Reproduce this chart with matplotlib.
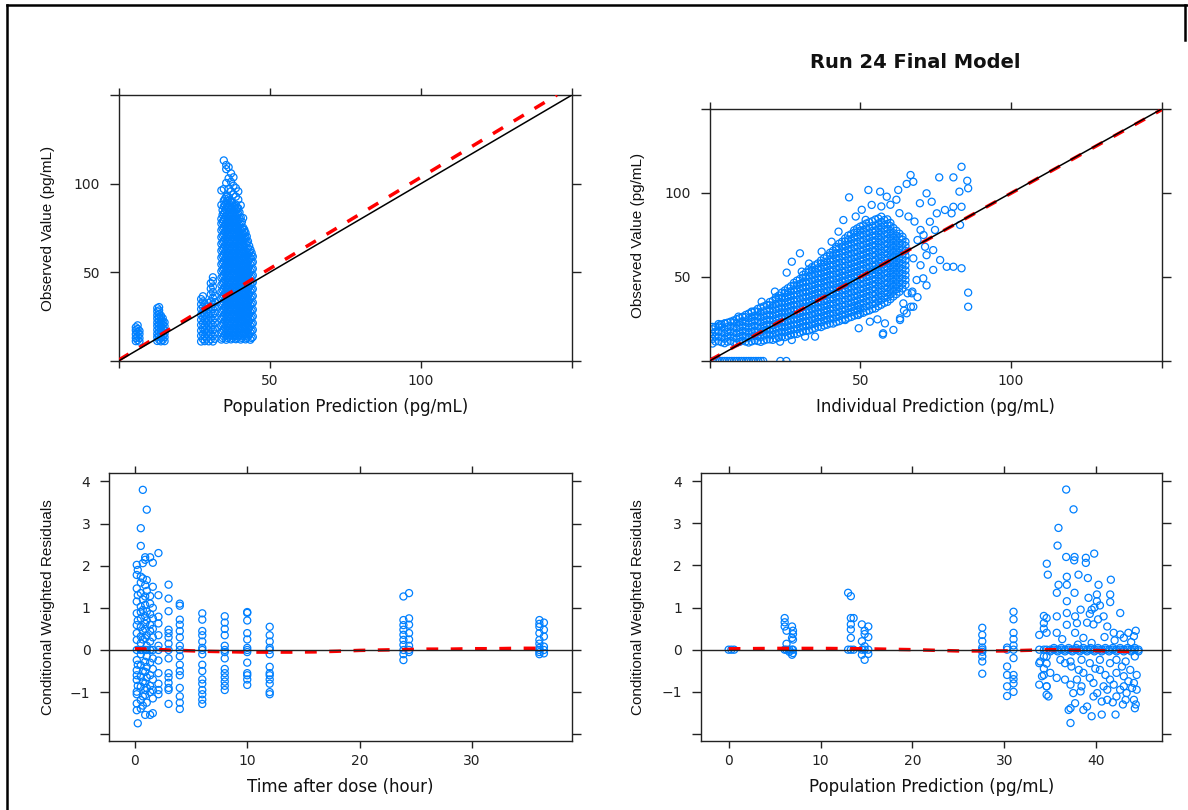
import matplotlib
matplotlib.use("Agg")
import matplotlib.pyplot as plt
from matplotlib.lines import Line2D

plt.rcParams['font.family'] = ['DejaVu Sans']

POINT = '#0080ff'
SMOOTH = '#ff0000'
INK = '#222222'

# ---------------- top-left: observed vs population prediction ----------------
pop_pred_cols = [5.7, 6.3, 6.9,
                 12.8, 13.4, 14.0, 14.6, 15.2,
                 27.3, 27.9, 28.5, 29.1, 29.8, 30.5, 31.2, 31.8,
                 34.0, 34.8, 35.6, 36.4, 37.2, 38.0, 38.8, 39.6, 40.4, 41.2,
                 42.0, 42.8, 43.6, 44.4]
obs_by_pop_pred = [
    [11.2, 13.0, 15.1, 17.3, 19.0],
    [11.8, 13.9, 16.2, 18.1, 20.1],
    [11.0, 12.9, 15.2, 17.0],
    [11.3, 13.5, 15.4, 17.6, 19.8, 21.7, 23.9, 25.8, 27.9, 29.8],
    [12.0, 14.1, 16.3, 18.4, 20.6, 22.5, 24.7, 26.6, 28.5, 30.4],
    [11.1, 13.2, 15.6, 17.7, 19.9, 22.1, 24.0, 25.6],
    [11.9, 14.0, 16.2, 18.5, 20.5, 22.3, 24.1],
    [11.2, 13.4, 15.5, 17.4, 19.6, 21.8],
    [11.0, 14.2, 17.1, 20.3, 23.2, 26.1, 29.3, 32.0, 34.9],
    [12.4, 15.3, 18.5, 21.4, 24.6, 27.5, 30.4, 33.6, 36.5],
    [11.2, 14.0, 17.3, 20.1, 23.4, 26.2, 29.0, 32.3],
    [12.6, 15.5, 18.4, 21.7, 24.5, 27.4, 30.6],
    [11.1, 14.3, 17.2, 20.0, 23.3, 26.5, 29.4, 32.8],
    [12.3, 15.1, 18.3, 21.2, 24.4, 27.3, 30.2, 33.5, 37.6, 40.8, 43.9],
    [11.0, 14.1, 17.4, 20.2, 23.1, 26.4, 29.3, 32.1, 35.6, 38.9, 42.0, 45.1, 47.2],
    [12.5, 15.4, 18.2, 21.5, 24.3, 27.1, 30.5, 33.2, 36.8],
    [12.1, 15.8, 19.9, 23.6, 27.4, 31.5, 35.2, 39.1, 42.8, 46.9, 50.6, 54.5, 58.3,
     62.2, 66.0, 69.8, 73.7, 77.5, 80.1, 88.0, 96.2],
    [13.9, 17.8, 21.6, 25.5, 29.3, 33.2, 37.0, 40.9, 44.7, 48.6, 52.4, 56.3, 60.1,
     64.0, 67.8, 71.7, 75.5, 79.4, 83.2, 87.1, 90.4, 97.0, 113.1],
    [12.0, 15.9, 19.7, 23.6, 27.4, 31.3, 35.1, 39.0, 42.8, 46.7, 50.5, 54.4, 58.2,
     62.1, 65.9, 69.8, 73.6, 77.5, 81.3, 85.2, 89.0, 92.6, 100.4, 108.2, 110.5],
    [13.8, 17.7, 21.5, 25.4, 29.2, 33.1, 36.9, 40.8, 44.6, 48.5, 52.3, 56.2, 60.0,
     63.9, 67.7, 71.6, 75.4, 79.3, 83.1, 87.0, 91.8, 97.1, 103.0, 109.3],
    [12.2, 16.0, 19.9, 23.7, 27.6, 31.4, 35.3, 39.1, 43.0, 46.8, 50.7, 54.5, 58.4,
     62.2, 66.1, 69.9, 73.8, 77.6, 81.5, 85.3, 89.6, 95.7, 101.0, 105.8],
    [14.0, 17.9, 21.7, 25.6, 29.4, 33.3, 37.1, 41.0, 44.8, 48.7, 52.5, 56.4, 60.2,
     64.1, 67.9, 71.8, 75.6, 79.5, 83.3, 86.9, 93.9, 98.8, 103.6],
    [12.3, 16.1, 20.0, 23.8, 27.7, 31.5, 35.4, 39.2, 43.1, 46.9, 50.8, 54.6, 58.5,
     62.3, 66.2, 70.0, 73.9, 77.7, 81.6, 85.4, 88.2, 92.7, 97.5],
    [13.9, 17.8, 21.6, 25.5, 29.3, 33.2, 37.0, 40.9, 44.7, 48.6, 52.4, 56.3, 60.1,
     64.0, 67.8, 71.7, 75.5, 79.4, 83.0, 86.1, 91.0, 95.6],
    [12.1, 15.9, 19.8, 23.6, 27.5, 31.3, 35.2, 39.0, 42.9, 46.7, 50.6, 54.4, 58.3,
     62.1, 66.0, 69.8, 73.7, 77.4, 80.9, 87.8],
    [14.1, 17.9, 21.8, 25.6, 29.5, 33.3, 37.2, 41.0, 44.9, 48.7, 52.6, 56.4, 60.3,
     64.1, 68.0, 71.5, 75.2, 80.6],
    [12.2, 16.0, 19.9, 23.7, 27.6, 31.4, 35.3, 39.1, 43.0, 46.8, 50.7, 54.5, 58.4,
     62.2, 66.1, 69.4, 72.3],
    [13.8, 17.7, 21.5, 25.4, 29.2, 33.1, 36.9, 40.8, 44.6, 48.5, 52.3, 56.2, 60.0,
     63.6, 67.5],
    [12.0, 15.9, 19.7, 23.6, 27.4, 31.3, 35.1, 39.0, 42.8, 46.7, 50.5, 54.4, 58.1, 62.8],
    [13.6, 17.5, 21.3, 25.2, 29.0, 32.9, 36.7, 40.6, 44.4, 48.3, 52.0, 55.8, 58.9],
]
# observations sitting between the columns above (main dose group)
pop_pred_cols_mid = [34.4, 35.2, 36.0, 36.8, 37.6, 38.4, 39.2, 40.0, 40.8, 41.6,
                     42.4, 43.2, 44.0]
obs_by_pop_pred_mid = [
    [13.0, 16.9, 20.8, 24.6, 28.5, 32.3, 36.2, 40.0, 43.9, 47.7, 51.6, 55.4, 59.3,
     63.1, 67.0, 70.8, 74.7, 78.5, 82.4, 85.1],
    [14.8, 18.7, 22.5, 26.4, 30.2, 34.1, 37.9, 41.8, 45.6, 49.5, 53.3, 57.2, 61.0,
     64.9, 68.7, 72.6, 76.4, 80.3, 84.1, 88.0, 91.5],
    [13.0, 16.9, 20.8, 24.6, 28.5, 32.3, 36.2, 40.0, 43.9, 47.7, 51.6, 55.4, 59.3,
     63.1, 67.0, 70.8, 74.7, 78.5, 82.4, 86.2, 90.1, 93.0],
    [14.8, 18.7, 22.5, 26.4, 30.2, 34.1, 37.9, 41.8, 45.6, 49.5, 53.3, 57.2, 61.0,
     64.9, 68.7, 72.6, 76.4, 80.3, 84.1, 88.0, 90.8],
    [13.0, 16.9, 20.8, 24.6, 28.5, 32.3, 36.2, 40.0, 43.9, 47.7, 51.6, 55.4, 59.3,
     63.1, 67.0, 70.8, 74.7, 78.5, 82.4, 86.2, 89.4],
    [14.8, 18.7, 22.5, 26.4, 30.2, 34.1, 37.9, 41.8, 45.6, 49.5, 53.3, 57.2, 61.0,
     64.9, 68.7, 72.6, 76.4, 80.3, 84.1, 87.5],
    [13.0, 16.9, 20.8, 24.6, 28.5, 32.3, 36.2, 40.0, 43.9, 47.7, 51.6, 55.4, 59.3,
     63.1, 67.0, 70.8, 74.7, 78.5, 82.4, 86.2],
    [14.8, 18.7, 22.5, 26.4, 30.2, 34.1, 37.9, 41.8, 45.6, 49.5, 53.3, 57.2, 61.0,
     64.9, 68.7, 72.6, 76.4, 80.3, 83.8],
    [13.0, 16.9, 20.8, 24.6, 28.5, 32.3, 36.2, 40.0, 43.9, 47.7, 51.6, 55.4, 59.3,
     63.1, 67.0, 70.8, 74.7, 78.5],
    [14.8, 18.7, 22.5, 26.4, 30.2, 34.1, 37.9, 41.8, 45.6, 49.5, 53.3, 57.2, 61.0,
     64.9, 68.7, 72.6, 74.0],
    [13.0, 16.9, 20.8, 24.6, 28.5, 32.3, 36.2, 40.0, 43.9, 47.7, 51.6, 55.4, 59.3,
     63.1, 67.0, 70.2],
    [14.8, 18.7, 22.5, 26.4, 30.2, 34.1, 37.9, 41.8, 45.6, 49.5, 53.3, 57.2, 61.0, 64.9],
    [13.0, 16.9, 20.8, 24.6, 28.5, 32.3, 36.2, 40.0, 43.9, 47.7, 51.6, 55.4, 59.3, 61.0],
]
# linear trend of observed on population prediction
pop_trend_x = [0.0, 145.0]
pop_trend_y = [0.5, 150.0]

# ---------------- top-right: observed vs individual prediction ----------------
ind_pred_cols = [1, 3, 5, 7, 9, 11, 13, 15, 17, 19, 21, 23, 25, 27, 29, 31, 33,
                 35, 37, 39, 41, 43, 45, 47, 49, 51, 53, 55, 57, 59, 61, 63, 65]
obs_by_ind_pred = [
    [10.4, 13.2, 16.1, 18.9, 20.3],
    [11.8, 14.6, 17.5, 20.6, 22.0],
    [10.6, 13.3, 16.4, 19.2, 22.3],
    [12.0, 14.9, 17.7, 20.8, 23.4],
    [10.7, 13.6, 16.5, 19.4, 22.2, 24.9],
    [12.1, 15.0, 17.9, 20.8, 23.7, 26.3],
    [11.0, 13.9, 16.8, 19.7, 22.6, 25.5, 28.2],
    [12.3, 15.2, 18.1, 21.0, 23.9, 26.8, 29.6],
    [11.4, 14.3, 17.2, 20.1, 23.0, 25.9, 28.8, 31.8],
    [12.8, 15.7, 18.6, 21.5, 24.4, 27.3, 30.2, 33.4],
    [12.6, 15.5, 18.4, 21.3, 24.2, 27.1, 30.0, 32.9, 35.8],
    [14.0, 16.9, 19.8, 22.7, 25.6, 28.5, 31.4, 34.3, 37.2, 39.0],
    [14.2, 17.1, 20.0, 22.9, 25.8, 28.7, 31.6, 34.5, 37.4, 40.3, 42.0],
    [15.5, 18.4, 21.3, 24.2, 27.1, 30.0, 32.9, 35.8, 38.7, 41.6, 44.5],
    [16.1, 19.0, 21.9, 24.8, 27.7, 30.6, 33.5, 36.4, 39.3, 42.2, 45.1, 47.8],
    [17.6, 20.5, 23.4, 26.3, 29.2, 32.1, 35.0, 37.9, 40.8, 43.7, 46.6, 49.5, 51.2],
    [18.2, 21.1, 24.0, 26.9, 29.8, 32.7, 35.6, 38.5, 41.4, 44.3, 47.2, 50.1, 53.0, 54.6],
    [19.6, 22.5, 25.4, 28.3, 31.2, 34.1, 37.0, 39.9, 42.8, 45.7, 48.6, 51.5, 54.4, 57.0],
    [20.2, 23.1, 26.0, 28.9, 31.8, 34.7, 37.6, 40.5, 43.4, 46.3, 49.2, 52.1, 55.0, 57.9, 59.8],
    [21.6, 24.5, 27.4, 30.3, 33.2, 36.1, 39.0, 41.9, 44.8, 47.7, 50.6, 53.5, 56.4, 59.3, 62.2],
    [22.3, 25.2, 28.1, 31.0, 33.9, 36.8, 39.7, 42.6, 45.5, 48.4, 51.3, 54.2, 57.1, 60.0,
     62.9, 65.6],
    [23.7, 26.6, 29.5, 32.4, 35.3, 38.2, 41.1, 44.0, 46.9, 49.8, 52.7, 55.6, 58.5, 61.4,
     64.3, 67.2, 69.8],
    [24.8, 27.7, 30.6, 33.5, 36.4, 39.3, 42.2, 45.1, 48.0, 50.9, 53.8, 56.7, 59.6, 62.5,
     65.4, 68.3, 71.2, 73.0],
    [26.2, 29.1, 32.0, 34.9, 37.8, 40.7, 43.6, 46.5, 49.4, 52.3, 55.2, 58.1, 61.0, 63.9,
     66.8, 69.7, 72.6, 75.5],
    [27.4, 30.3, 33.2, 36.1, 39.0, 41.9, 44.8, 47.7, 50.6, 53.5, 56.4, 59.3, 62.2, 65.1,
     68.0, 70.9, 73.8, 76.7, 78.9],
    [28.7, 31.6, 34.5, 37.4, 40.3, 43.2, 46.1, 49.0, 51.9, 54.8, 57.7, 60.6, 63.5, 66.4,
     69.3, 72.2, 75.1, 78.0, 80.8],
    [30.1, 33.0, 35.9, 38.8, 41.7, 44.6, 47.5, 50.4, 53.3, 56.2, 59.1, 62.0, 64.9, 67.8,
     70.7, 73.6, 76.5, 79.4, 82.6],
    [31.3, 34.2, 37.1, 40.0, 42.9, 45.8, 48.7, 51.6, 54.5, 57.4, 60.3, 63.2, 66.1, 69.0,
     71.9, 74.8, 77.7, 80.6, 84.2],
    [33.5, 36.4, 39.3, 42.2, 45.1, 48.0, 50.9, 53.8, 56.7, 59.6, 62.5, 65.4, 68.3, 71.2,
     74.1, 77.0, 79.9, 82.8, 85.9],
    [35.2, 38.1, 41.0, 43.9, 46.8, 49.7, 52.6, 55.5, 58.4, 61.3, 64.2, 67.1, 70.0, 72.9,
     75.8, 78.7, 81.6, 84.3],
    [38.4, 41.3, 44.2, 47.1, 50.0, 52.9, 55.8, 58.7, 61.6, 64.5, 67.4, 70.3, 73.2, 76.1, 79.2],
    [41.2, 44.1, 47.0, 49.9, 52.8, 55.7, 58.6, 61.5, 64.4, 67.3, 70.2, 73.1, 75.8],
    [45.3, 48.2, 51.1, 54.0, 56.9, 59.8, 62.7, 65.6, 68.5, 71.0],
]
ind_pred_cols_mid = [2, 4, 6, 8, 10, 12, 14, 16, 18, 20, 22, 24, 26, 28, 30, 32, 34,
                     36, 38, 40, 42, 44, 46, 48, 50, 52, 54, 56, 58, 60, 62, 64]
obs_by_ind_pred_mid = [
    [11.6, 14.5, 17.4, 20.3],
    [11.2, 14.1, 17.0, 19.9, 21.8],
    [11.5, 14.4, 17.3, 20.2, 22.8],
    [11.2, 14.1, 17.0, 19.9, 22.8, 24.1],
    [11.4, 14.3, 17.2, 20.1, 23.0, 25.5],
    [11.6, 14.5, 17.4, 20.3, 23.2, 26.1, 27.4],
    [11.7, 14.6, 17.5, 20.4, 23.3, 26.2, 28.9],
    [11.9, 14.8, 17.7, 20.6, 23.5, 26.4, 29.3, 31.0],
    [12.2, 15.1, 18.0, 20.9, 23.8, 26.7, 29.6, 32.5],
    [12.9, 15.8, 18.7, 21.6, 24.5, 27.4, 30.3, 33.2, 35.1],
    [13.4, 16.3, 19.2, 22.1, 25.0, 27.9, 30.8, 33.7, 36.6, 37.9],
    [14.6, 17.5, 20.4, 23.3, 26.2, 29.1, 32.0, 34.9, 37.8, 40.7],
    [14.9, 17.8, 20.7, 23.6, 26.5, 29.4, 32.3, 35.2, 38.1, 41.0, 43.3],
    [16.0, 18.9, 21.8, 24.7, 27.6, 30.5, 33.4, 36.3, 39.2, 42.1, 45.0, 46.5],
    [16.9, 19.8, 22.7, 25.6, 28.5, 31.4, 34.3, 37.2, 40.1, 43.0, 45.9, 48.8],
    [17.9, 20.8, 23.7, 26.6, 29.5, 32.4, 35.3, 38.2, 41.1, 44.0, 46.9, 49.8, 52.7],
    [19.0, 21.9, 24.8, 27.7, 30.6, 33.5, 36.4, 39.3, 42.2, 45.1, 48.0, 50.9, 53.8, 55.9],
    [20.4, 23.3, 26.2, 29.1, 32.0, 34.9, 37.8, 40.7, 43.6, 46.5, 49.4, 52.3, 55.2, 58.1],
    [21.1, 24.0, 26.9, 29.8, 32.7, 35.6, 38.5, 41.4, 44.3, 47.2, 50.1, 53.0, 55.9, 58.8, 61.1],
    [22.4, 25.3, 28.2, 31.1, 34.0, 36.9, 39.8, 42.7, 45.6, 48.5, 51.4, 54.3, 57.2, 60.1,
     63.0, 64.4],
    [23.2, 26.1, 29.0, 31.9, 34.8, 37.7, 40.6, 43.5, 46.4, 49.3, 52.2, 55.1, 58.0, 60.9,
     63.8, 66.7, 68.0],
    [24.6, 27.5, 30.4, 33.3, 36.2, 39.1, 42.0, 44.9, 47.8, 50.7, 53.6, 56.5, 59.4, 62.3,
     65.2, 68.1, 71.0],
    [25.7, 28.6, 31.5, 34.4, 37.3, 40.2, 43.1, 46.0, 48.9, 51.8, 54.7, 57.6, 60.5, 63.4,
     66.3, 69.2, 72.1, 74.6],
    [27.0, 29.9, 32.8, 35.7, 38.6, 41.5, 44.4, 47.3, 50.2, 53.1, 56.0, 58.9, 61.8, 64.7,
     67.6, 70.5, 73.4, 76.3, 77.8],
    [28.3, 31.2, 34.1, 37.0, 39.9, 42.8, 45.7, 48.6, 51.5, 54.4, 57.3, 60.2, 63.1, 66.0,
     68.9, 71.8, 74.7, 77.6, 80.0],
    [29.6, 32.5, 35.4, 38.3, 41.2, 44.1, 47.0, 49.9, 52.8, 55.7, 58.6, 61.5, 64.4, 67.3,
     70.2, 73.1, 76.0, 78.9, 81.8],
    [31.0, 33.9, 36.8, 39.7, 42.6, 45.5, 48.4, 51.3, 54.2, 57.1, 60.0, 62.9, 65.8, 68.7,
     71.6, 74.5, 77.4, 80.3, 83.2],
    [32.6, 35.5, 38.4, 41.3, 44.2, 47.1, 50.0, 52.9, 55.8, 58.7, 61.6, 64.5, 67.4, 70.3,
     73.2, 76.1, 79.0, 81.9, 84.8],
    [34.6, 37.5, 40.4, 43.3, 46.2, 49.1, 52.0, 54.9, 57.8, 60.7, 63.6, 66.5, 69.4, 72.3,
     75.2, 78.1, 81.0, 83.9],
    [36.8, 39.7, 42.6, 45.5, 48.4, 51.3, 54.2, 57.1, 60.0, 62.9, 65.8, 68.7, 71.6, 74.5,
     77.4, 80.3, 82.2],
    [39.8, 42.7, 45.6, 48.5, 51.4, 54.3, 57.2, 60.1, 63.0, 65.9, 68.8, 71.7, 74.6, 77.5],
    [43.2, 46.1, 49.0, 51.9, 54.8, 57.7, 60.6, 63.5, 66.4, 69.3, 72.2, 74.0],
]
ind_pred_extra = [3.5, 5.1, 9.6, 14.0, 17.3, 21.7, 25.6, 27.3, 30.0, 30.6, 33.0, 37.2,
                  40.5, 42.8, 44.4, 46.3, 50.5, 52.7, 53.8, 56.6, 48.5, 51.8, 58.8, 62.6,
                  65.4, 67.6, 66.7, 76.2, 80.9, 83.6, 85.5, 85.8, 82.9, 72.0, 69.8, 73.7,
                  78.1, 80.9, 83.6, 80.3, 75.4, 73.1, 74.8, 83.1, 71.5, 74.2, 67.6, 68.7,
                  70.9, 76.5, 78.7, 80.9, 83.6, 74.2, 85.8, 85.8, 67.1, 67.6, 65.4, 63.2,
                  64.3, 61.0, 57.6, 58.2, 57.5, 55.7, 53.2, 49.5, 49.4, 49.4, 45.0, 35.0,
                  31.7, 27.3, 23.4, 63.2, 64.5, 66.8, 65.7, 67.3, 60.0, 63.0, 66.0, 68.0,
                  70.0, 69.0, 71.0, 72.0, 70.0, 72.0, 69.0, 62.0, 57.0]
obs_ind_extra = [21.4, 22.4, 26.4, 29.4, 35.3, 41.3, 52.6, 59.1, 64.1, 53.2, 58.0, 65.1,
                 71.0, 77.0, 83.9, 97.4, 90.0, 101.8, 92.9, 100.8, 86.0, 84.0, 97.8, 101.8,
                 105.4, 106.7, 110.7, 109.3, 109.3, 115.6, 107.3, 102.8, 100.8, 99.8, 93.9,
                 94.8, 89.9, 91.8, 91.8, 87.9, 87.9, 82.9, 78.0, 81.0, 68.0, 66.0, 61.1,
                 48.2, 49.2, 60.1, 56.1, 56.1, 55.2, 54.2, 40.7, 32.3, 40.3, 32.3, 28.4,
                 24.4, 34.3, 18.5, 16.5, 22.4, 15.7, 24.8, 23.4, 19.5, 32.3, 27.4, 24.4,
                 14.5, 14.5, 12.5, 11.5, 25.4, 30.0, 32.3, 40.3, 41.3, 93.0, 88.0, 86.0,
                 83.0, 78.0, 72.0, 75.0, 63.0, 57.0, 45.0, 38.0, 96.0, 92.0]
# observations reported at zero concentration
ind_pred_zero = [1.0, 1.8, 2.6, 3.4, 4.2, 5.0, 5.8, 6.6, 7.4, 8.2, 9.0, 9.8, 10.6,
                 11.4, 12.2, 13.0, 13.8, 14.6, 15.4, 16.2, 17.0, 17.8, 23.5, 25.5]
obs_ind_zero = [0.0] * 24
ind_trend_x = [0.0, 150.0]
ind_trend_y = [0.3, 149.6]

# ---------------- bottom-left: CWRES vs time after dose ----------------
time_cols = [0.17, 0.26, 0.53, 0.71, 0.92, 1.06, 1.36, 1.6, 2.1, 3.0, 4.0, 6.0,
             8.0, 10.0, 12.0, 23.9, 24.4, 36.0, 36.4]
cwres_by_time = [
    [2.02, 1.78, 1.46, 1.15, 0.87, 0.59, 0.40, 0.24, 0.0, -0.24, -0.48, -0.71,
     -0.99, -1.27, -1.43, -1.05, -0.60],
    [-1.74, 1.90, 0.70, -0.35, -0.85, 1.30],
    [2.89, 2.47, 1.74, 1.35, 1.03, 0.75, 0.55, 0.32, 0.16, 0.0, -0.36, -0.63,
     -0.87, -1.19, -1.39, 1.60, 0.90, -0.10],
    [3.80, 2.06, 1.70, 1.20, 0.95, 0.45, 0.0, -0.50, -0.75, -1.10, -1.32, 0.25],
    [2.20, 2.14, 1.54, 1.27, 1.07, 0.80, 0.50, 0.28, 0.0, -0.28, -0.52, -0.79,
     -1.07, -1.54, 0.62, -0.95],
    [3.33, 1.66, 1.40, 0.91, 0.70, 0.35, 0.10, 0.0, -0.15, -0.40, -0.65, -0.90, -1.25],
    [2.20, 1.28, 1.10, 0.85, 0.60, 0.45, 0.20, 0.0, -0.30, -0.60, -0.85, -1.00, -1.54],
    [2.07, 1.50, 1.00, 0.75, 0.50, 0.30, 0.0, -0.20, -0.45, -0.70, -0.95, -1.15, -1.50],
    [2.30, 1.30, 0.79, 0.63, 0.35, 0.10, 0.0, -0.25, -0.55, -0.80, -0.95, -1.05],
    [1.55, 1.22, 0.92, 0.48, 0.40, 0.30, 0.15, 0.0, -0.20, -0.55, -0.65, -0.78,
     -0.90, -0.95, -1.28],
    [1.10, 1.05, 0.72, 0.60, 0.45, 0.30, 0.10, 0.0, -0.15, -0.35, -0.50, -0.60,
     -0.90, -1.10, -1.25, -1.40],
    [0.87, 0.72, 0.45, 0.35, 0.20, 0.05, 0.0, -0.10, -0.35, -0.50, -0.70, -0.80,
     -0.95, -1.05, -1.18, -1.28],
    [0.80, 0.65, 0.50, 0.35, 0.10, 0.0, -0.05, -0.20, -0.45, -0.55, -0.65, -0.75,
     -0.85, -0.95],
    [0.90, 0.88, 0.70, 0.40, 0.25, 0.05, 0.0, -0.05, -0.30, -0.55, -0.60, -0.70, -0.83],
    [0.55, 0.35, 0.20, 0.05, 0.0, -0.10, -0.40, -0.55, -0.60, -0.70, -0.80, -1.00, -1.05],
    [1.27, 0.71, 0.59, 0.48, 0.36, 0.24, 0.12, 0.0, -0.10, -0.24],
    [1.35, 0.75, 0.60, 0.40, 0.25, 0.10, 0.0, -0.05],
    [0.71, 0.62, 0.55, 0.40, 0.24, 0.15, 0.05, 0.0, -0.05, -0.10],
    [0.65, 0.48, 0.32, 0.08, 0.0, -0.08],
]
time_trend_x = [0, 2, 4, 6, 8, 10, 12, 14, 16, 18, 20, 22, 24, 26, 28, 30, 32, 34, 36.3]
time_trend_y = [0.03, 0.01, -0.01, -0.03, -0.04, -0.05, -0.05, -0.05, -0.045, -0.03,
                -0.01, 0.0, 0.01, 0.02, 0.02, 0.03, 0.03, 0.04, 0.04]

# ---------------- bottom-right: CWRES vs population prediction ----------------
pred_cols_r = [0.0, 0.3, 0.6, 6.1, 6.3, 6.6, 6.9, 7.0, 13.0, 13.3, 13.6, 14.5, 14.8,
               15.2, 27.6, 30.3, 31.0, 33.8, 34.3, 34.6, 35.0,
               35.4, 35.8, 36.2, 36.6, 37.0, 37.4, 37.8, 38.2, 38.6, 39.0, 39.4,
               39.8, 40.2, 40.6, 41.0, 41.4, 41.8, 42.2, 42.6, 43.0, 43.4, 43.8,
               44.2, 44.6]
cwres_by_pred = [
    [0.0], [0.0], [0.0],
    [0.75, 0.65, 0.55, 0.0], [0.45, 0.14, 0.0], [0.0, -0.05],
    [0.55, 0.28, -0.12, 0.0], [0.37, 0.24, 0.45, 0.0, -0.08],
    [1.35, 0.0], [1.27, 0.75, 0.60, 0.48, 0.28, 0.0], [0.75, 0.0],
    [0.60, 0.20, 0.0, -0.12], [0.37, 0.08, 0.0, -0.24, 0.45], [0.55, 0.30, 0.0, -0.10],
    [0.52, 0.35, 0.20, 0.05, 0.0, -0.05, -0.16, -0.28, -0.57],
    [0.05, 0.0, -0.40, -0.60, -0.87, -1.10],
    [0.90, 0.72, 0.40, 0.25, 0.10, 0.0, -0.20, -0.60, -0.70, -0.80, -1.00],
    [0.35, 0.0, -0.32, -0.83],
    [0.80, 0.63, 0.50, 0.0, -0.16, -0.45, -0.60],
    [0.75, 0.40, 0.0, -0.33, -0.87, -1.07],
    [0.0, -0.04],
    [0.0, 0.04], [0.0, -0.04], [0.0, 0.04], [0.0, -0.04], [0.0, 0.04], [0.0, -0.04],
    [0.0, 0.04], [0.0, -0.04], [0.0, 0.04], [0.0, -0.04], [0.0, 0.04], [0.0, -0.04],
    [0.0, 0.04], [0.0, -0.04], [0.0, 0.04], [0.0, -0.04], [0.0, 0.04], [0.0, -0.04],
    [0.0, 0.04], [0.0, -0.04], [0.0, 0.04], [0.0, -0.04], [0.0, 0.04], [0.0, -0.04],
]
pred_extra = [36.73, 37.53, 35.89, 35.79, 34.62, 34.73, 36.73, 37.64, 37.60, 38.87,
              38.87, 39.78, 35.90, 35.71, 36.80, 38.07, 39.09, 40.25, 41.59, 36.80,
              37.64, 36.80, 39.16, 40.07, 40.07, 41.52, 41.52, 42.61, 35.71, 36.80,
              37.70, 37.90, 39.00, 39.30, 39.70, 40.20, 40.80, 41.20, 42.60, 43.50,
              35.70, 41.90, 43.00, 44.10, 36.80, 37.70, 38.60, 39.50, 39.80, 39.50,
              40.40, 38.30, 42.00, 43.80, 44.30, 40.90, 36.30, 38.00,
              34.60, 33.90, 36.60, 37.30, 38.10, 38.60, 39.30, 37.90, 38.40, 38.30,
              39.70, 40.80, 41.50, 40.40, 42.20, 43.00, 43.70, 44.10, 43.90, 42.20,
              43.00, 43.30, 44.10, 44.20, 39.70, 40.60, 41.20, 39.00, 38.60, 37.20,
              37.00, 39.50, 40.60, 42.10, 37.20, 36.60, 37.20, 37.50, 37.70, 40.10,
              41.20, 41.90, 42.60, 43.20, 35.70, 35.00, 34.10, 34.60, 34.80, 41.50,
              42.20, 43.20, 44.20, 38.40, 39.30, 40.40, 36.10, 37.20, 44.40, 44.40,
              43.50, 42.80, 41.00, 39.90, 44.30, 42.90, 41.80]
cwres_pred_extra = [3.80, 3.33, 2.89, 2.47, 2.04, 1.78, 2.20, 2.20, 2.12, 2.18,
                    2.06, 2.28, 1.54, 1.35, 1.73, 1.78, 1.70, 1.54, 1.66, 1.54,
                    1.35, 1.15, 1.23, 1.31, 1.15, 1.31, 1.13, 0.87, 0.79, 0.87,
                    0.79, 0.63, 0.64, 0.85, 0.60, 0.72, 0.79, 0.55, 0.36, 0.40,
                    0.40, 0.40, 0.28, 0.32, 0.59, 0.40, 0.28, 0.16, 1.00, 0.95,
                    1.05, 0.95, 0.22, 0.18, 0.45, 0.30, 0.25, 0.12,
                    -0.16, -0.28, -0.32, -0.40, -0.48, -0.55, -0.67, -0.71, -0.87, -0.99,
                    -0.79, -0.87, -0.71, -0.48, -0.55, -0.63, -0.48, -0.79, -0.91, -1.11,
                    -0.87, -1.03, -1.19, -1.39, -1.11, -1.23, -1.19, -1.35, -1.43, -1.39,
                    -1.43, -1.58, -1.54, -1.54, -1.74, -0.71, -0.83, -1.03, -1.27, -1.03,
                    -0.95, -0.83, -0.95, -1.19, -0.67, -0.55, -0.63, -0.87, -1.11, -0.32,
                    -0.24, -0.28, -0.16, -0.24, -0.32, -0.24, -0.24, -0.28, -0.60, -0.95,
                    -0.75, -0.40, -0.60, -0.45, -1.30, -1.30, -1.25]
pred_trend_x = [0, 5, 10, 15, 20, 25, 30, 35, 40, 44.5]
pred_trend_y = [0.02, 0.03, 0.03, 0.02, 0.0, -0.03, -0.03, 0.0, -0.02, -0.05]


def expand(cols, groups):
    xs, ys = [], []
    for x, vals in zip(cols, groups):
        xs.extend([x] * len(vals))
        ys.extend(vals)
    return xs, ys


W, H = 1188, 810
fig = plt.figure(figsize=(W / 100, H / 100), dpi=100)


def panel(left, top, right, bottom):
    return fig.add_axes([left / W, 1 - bottom / H, (right - left) / W, (bottom - top) / H])


def style(ax):
    for s in ax.spines.values():
        s.set_color(INK)
        s.set_linewidth(1.0)
    ax.tick_params(direction='out', width=1.0, color=INK, labelcolor=INK,
                   top=True, right=True, labeltop=False, labelright=False, labelsize=10)
    ax.tick_params(axis='x', length=5.0, pad=4.5)
    ax.tick_params(axis='y', length=6.8, pad=6.5)


def points(ax, x, y):
    ax.scatter(x, y, s=26, facecolors='none', edgecolors=POINT, linewidths=0.9, zorder=2)


def labels(ax, xlabel, ylabel, xpos, ypos):
    ax.set_xlabel(xlabel, fontsize=12, color='#111111')
    ax.xaxis.set_label_coords(0.5, xpos)
    ax.xaxis.label.set_va('center')
    ax.set_ylabel(ylabel, fontsize=11, family='Liberation Sans', color='#111111')
    ax.yaxis.set_label_coords(ypos, 0.5)
    ax.yaxis.label.set_va('center')


conc_ticks = [0, 50, 100, 150]
conc_labels = ['', '50', '100', '']

# top-left
ax1 = panel(118.6, 95, 572, 361)
px, py = expand(pop_pred_cols, obs_by_pop_pred)
mx, my = expand(pop_pred_cols_mid, obs_by_pop_pred_mid)
points(ax1, px + mx, py + my)
ax1.plot(pop_trend_x, pop_trend_y, color=SMOOTH, lw=2.5, dashes=(3.4, 3.6), zorder=3)
ax1.plot([0, 150], [0, 150], color='black', lw=1.1, zorder=4)
ax1.set_xlim(0, 150)
ax1.set_ylim(0, 150)
ax1.set_xticks(conc_ticks, conc_labels)
ax1.set_yticks(conc_ticks, conc_labels)
style(ax1)
labels(ax1, 'Population Prediction (pg/mL)', 'Observed Value (pg/mL)', -0.172, -0.156)

# top-right
ax2 = panel(709.5, 109, 1161.7, 361)
ix, iy = expand(ind_pred_cols, obs_by_ind_pred)
jx, jy = expand(ind_pred_cols_mid, obs_by_ind_pred_mid)
points(ax2, ix + jx + ind_pred_extra + ind_pred_zero,
       iy + jy + obs_ind_extra + obs_ind_zero)
ax2.plot(ind_trend_x, ind_trend_y, color=SMOOTH, lw=2.5, dashes=(3.4, 3.6), zorder=3)
ax2.plot([0, 150], [0, 150], color='black', lw=1.1, zorder=4)
ax2.set_xlim(0, 150)
ax2.set_ylim(0, 150)
ax2.set_xticks(conc_ticks, conc_labels)
ax2.set_yticks(conc_ticks, conc_labels)
style(ax2)
labels(ax2, 'Individual Prediction (pg/mL)', 'Observed Value (pg/mL)', -0.181, -0.159)

res_ticks = [-2, -1, 0, 1, 2, 3, 4]
res_labels = ['', '\u22121', '0', '1', '2', '3', '4']

# bottom-left
ax3 = panel(109, 473, 572, 741)
tx, ty = expand(time_cols, cwres_by_time)
points(ax3, tx, ty)
ax3.plot(time_trend_x, time_trend_y, color=SMOOTH, lw=2.5, dashes=(3.4, 3.6), zorder=3)
ax3.axhline(0, color=INK, lw=1.0, zorder=4)
ax3.set_xlim(-2.3, 38.9)
ax3.set_ylim(-2.16, 4.2)
ax3.set_xticks([0, 10, 20, 30])
ax3.set_yticks(res_ticks, res_labels)
style(ax3)
labels(ax3, 'Time after dose (hour)', 'Conditional Weighted Residuals', -0.171, -0.132)

# bottom-right
ax4 = panel(700.5, 472.7, 1162.4, 740.7)
rx, ry = expand(pred_cols_r, cwres_by_pred)
points(ax4, rx + pred_extra, ry + cwres_pred_extra)
ax4.plot(pred_trend_x, pred_trend_y, color=SMOOTH, lw=2.5, dashes=(3.4, 3.6), zorder=3)
ax4.axhline(0, color=INK, lw=1.0, zorder=4)
ax4.set_xlim(-3.06, 47.2)
ax4.set_ylim(-2.16, 4.2)
ax4.set_xticks([0, 10, 20, 30, 40])
ax4.set_yticks(res_ticks, res_labels)
style(ax4)
labels(ax4, 'Population Prediction (pg/mL)', 'Conditional Weighted Residuals', -0.172, -0.136)

fig.text(915 / W, 1 - 63 / H, 'Run 24 Final Model', ha='center', va='center',
         fontsize=14, fontweight='bold', color='#111111')

# page frame
fig.add_artist(Line2D([7 / W, 7 / W], [0, 1 - 5 / H], transform=fig.transFigure,
                      color='black', lw=1.8))
fig.add_artist(Line2D([7 / W, 1], [1 - 5 / H, 1 - 5 / H], transform=fig.transFigure,
                      color='black', lw=1.8))
fig.add_artist(Line2D([1185 / W, 1185 / W], [1 - 5 / H, 1 - 40 / H],
                      transform=fig.transFigure, color='black', lw=1.8))

fig.savefig('out.png', dpi=100)
